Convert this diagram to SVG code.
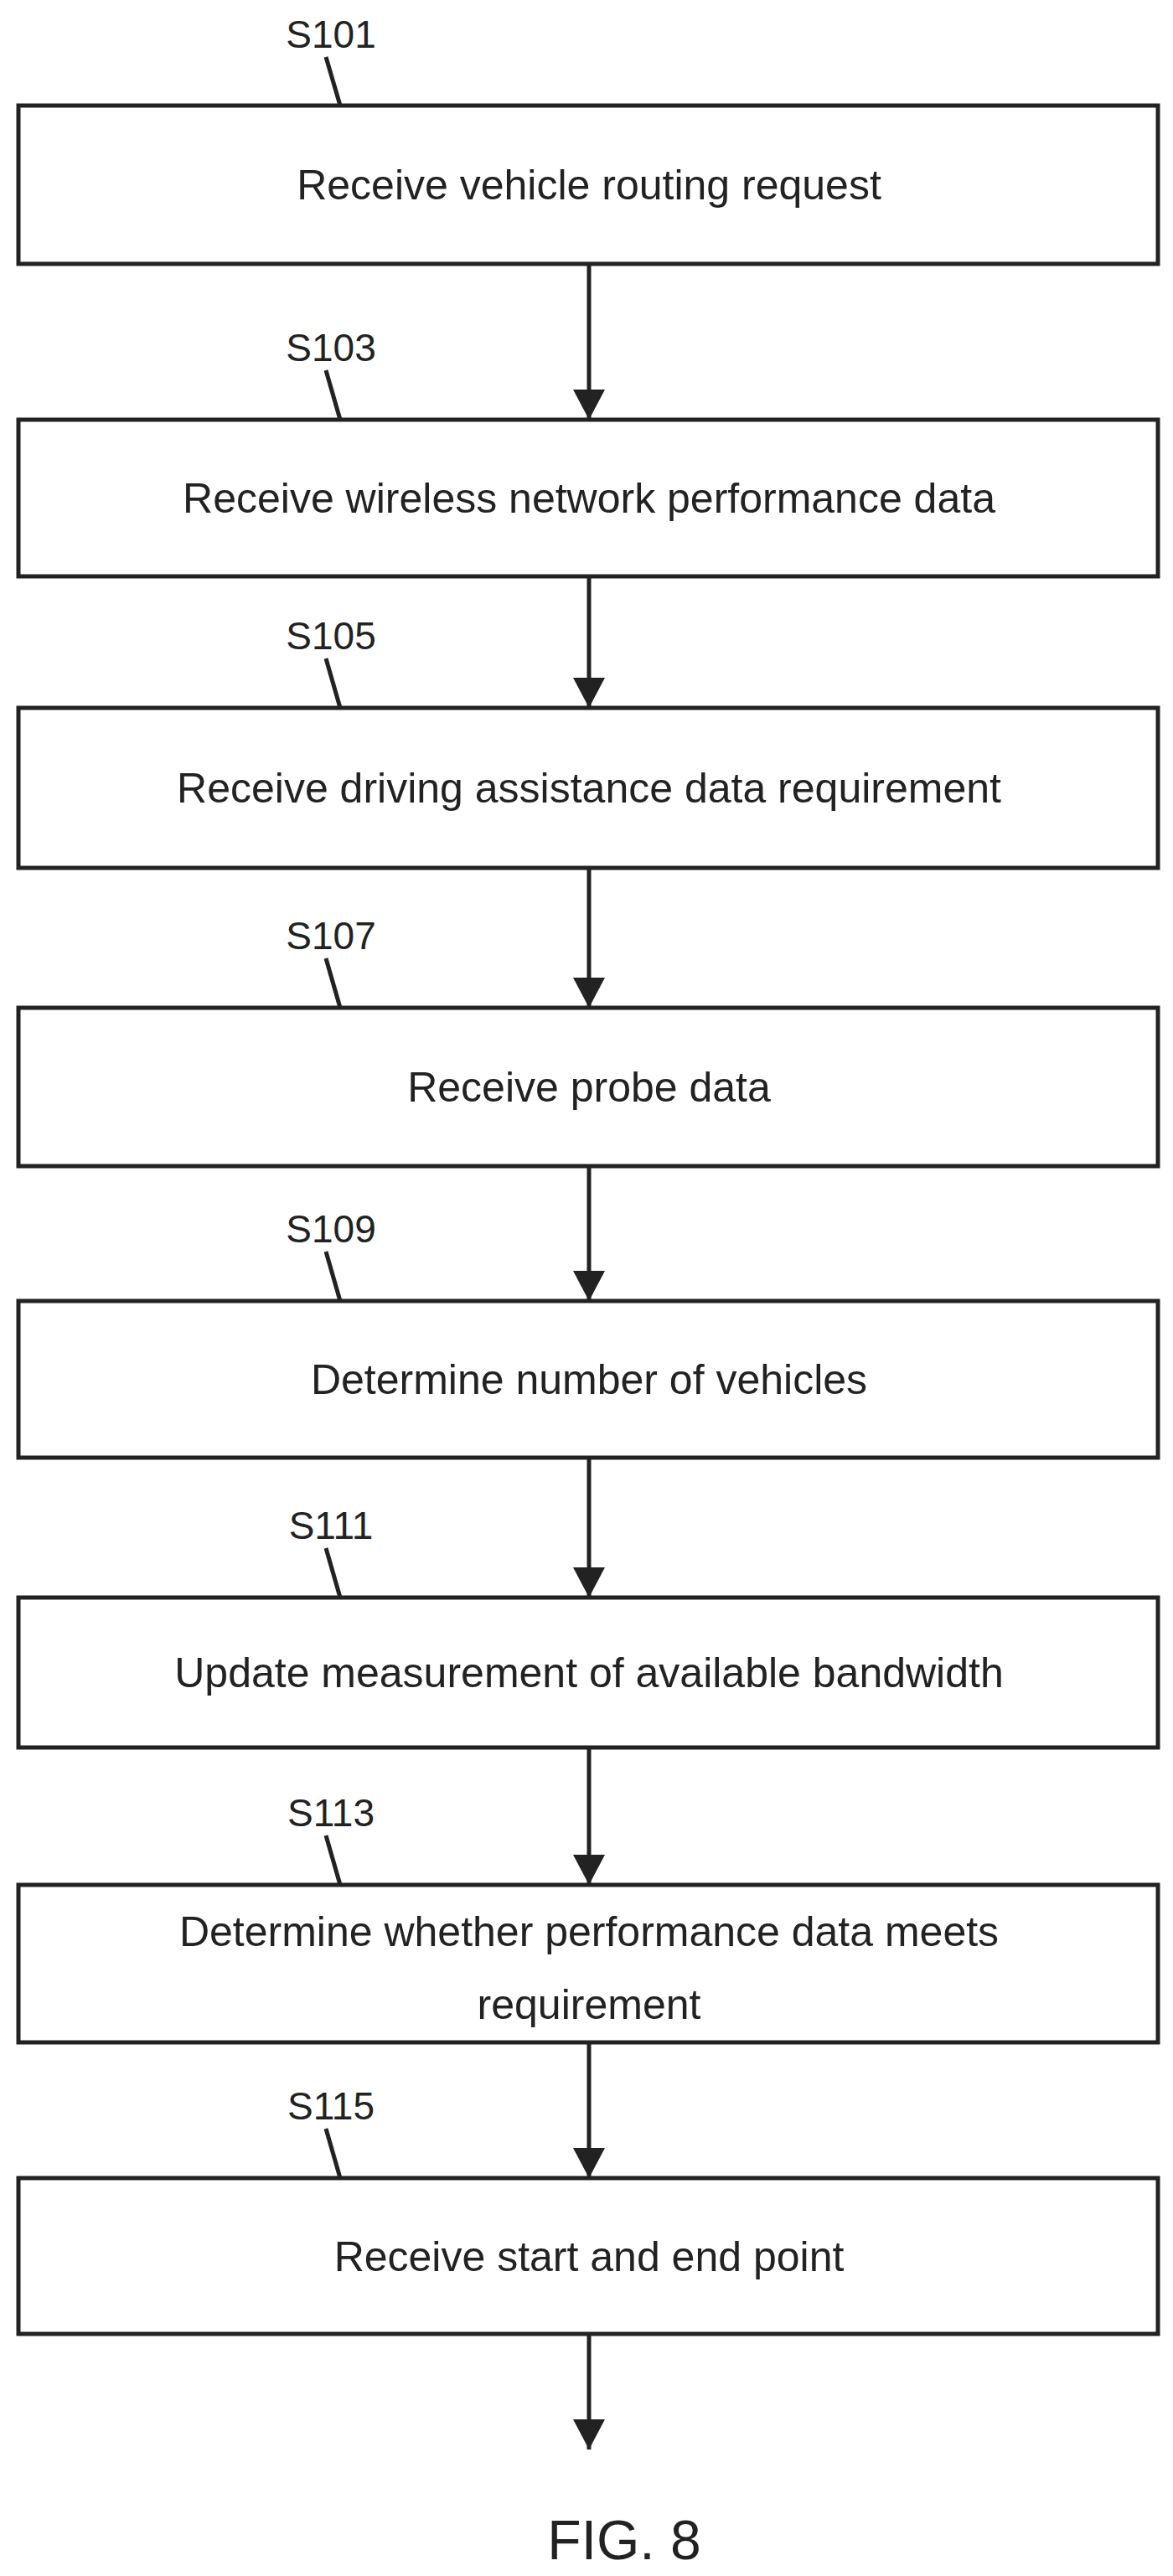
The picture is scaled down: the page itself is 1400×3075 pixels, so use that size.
<svg xmlns="http://www.w3.org/2000/svg" width="1400" height="3075" viewBox="0 0 1400 3075">
<style>
.b{fill:#fff;stroke:#222;stroke-width:5}
.t{font-family:"Liberation Sans",Arial,sans-serif;font-size:50px;fill:#222;text-anchor:middle}
.l{font-family:"Liberation Sans",Arial,sans-serif;font-size:46px;fill:#222;text-anchor:middle}
.c{stroke:#222;stroke-width:5;fill:none}
</style>
<defs><marker id="a" markerUnits="userSpaceOnUse" markerWidth="38" markerHeight="38" refX="36" refY="19" orient="auto"><path d="M0,0 L36,19 L0,38 Z" fill="#222"/></marker></defs>
<rect width="1400" height="3075" fill="#fff"/>
<g id="connectors">
<line class="c" x1="703" y1="315" x2="703" y2="501" marker-end="url(#a)"/>
<line class="c" x1="703" y1="688" x2="703" y2="845" marker-end="url(#a)"/>
<line class="c" x1="703" y1="1036" x2="703" y2="1203" marker-end="url(#a)"/>
<line class="c" x1="703" y1="1392" x2="703" y2="1553" marker-end="url(#a)"/>
<line class="c" x1="703" y1="1740" x2="703" y2="1907" marker-end="url(#a)"/>
<line class="c" x1="703" y1="2086" x2="703" y2="2250" marker-end="url(#a)"/>
<line class="c" x1="703" y1="2438" x2="703" y2="2600" marker-end="url(#a)"/>
<line class="c" x1="703" y1="2788" x2="703" y2="2924" marker-end="url(#a)"/>
</g>
<g id="n1"><rect class="b" x="22" y="126" width="1360" height="189"/><text class="t" x="703" y="238">Receive vehicle routing request</text><text class="l" x="395" y="57">S101</text><line class="c" x1="389" y1="68" x2="406" y2="126"/></g>
<g id="n2"><rect class="b" x="22" y="501" width="1360" height="187"/><text class="t" x="703" y="612">Receive wireless network performance data</text><text class="l" x="395" y="431">S103</text><line class="c" x1="389" y1="442" x2="406" y2="501"/></g>
<g id="n3"><rect class="b" x="22" y="845" width="1360" height="191"/><text class="t" x="703" y="958">Receive driving assistance data requirement</text><text class="l" x="395" y="775">S105</text><line class="c" x1="389" y1="786" x2="406" y2="845"/></g>
<g id="n4"><rect class="b" x="22" y="1203" width="1360" height="189"/><text class="t" x="703" y="1315">Receive probe data</text><text class="l" x="395" y="1133">S107</text><line class="c" x1="389" y1="1144" x2="406" y2="1203"/></g>
<g id="n5"><rect class="b" x="22" y="1553" width="1360" height="187"/><text class="t" x="703" y="1664">Determine number of vehicles</text><text class="l" x="395" y="1483">S109</text><line class="c" x1="389" y1="1494" x2="406" y2="1553"/></g>
<g id="n6"><rect class="b" x="22" y="1907" width="1360" height="179"/><text class="t" x="703" y="2014">Update measurement of available bandwidth</text><text class="l" x="395" y="1837">S111</text><line class="c" x1="389" y1="1848" x2="406" y2="1907"/></g>
<g id="n7"><rect class="b" x="22" y="2250" width="1360" height="188"/><text class="t" x="703" y="2323">Determine whether performance data meets</text><text class="t" x="703" y="2410">requirement</text><text class="l" x="395" y="2180">S113</text><line class="c" x1="389" y1="2191" x2="406" y2="2250"/></g>
<g id="n8"><rect class="b" x="22" y="2600" width="1360" height="186"/><text class="t" x="703" y="2711">Receive start and end point</text><text class="l" x="395" y="2530">S115</text><line class="c" x1="389" y1="2541" x2="406" y2="2600"/></g>
<text x="745" y="3055" style="font-family:'Liberation Sans',Arial,sans-serif;font-size:66px;fill:#222;text-anchor:middle">FIG. 8</text>
</svg>
